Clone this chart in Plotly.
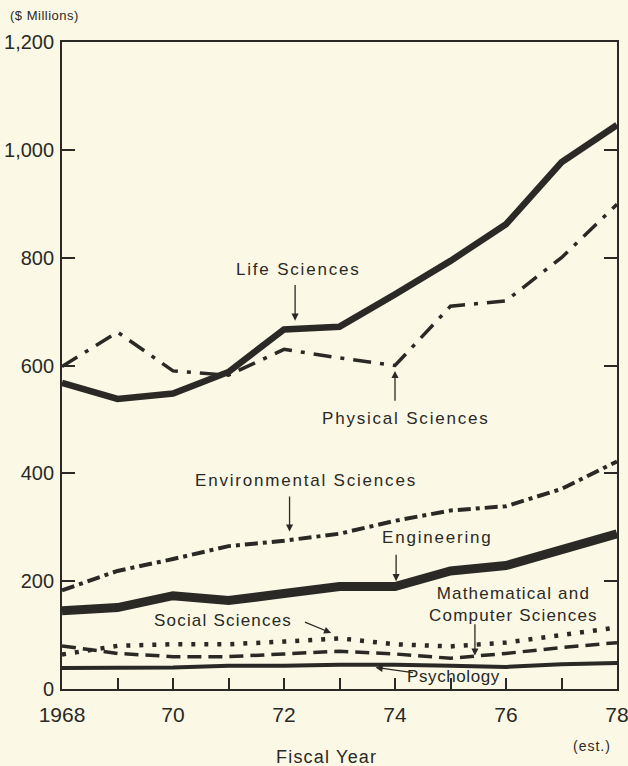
import plotly.graph_objects as go

years = [1968, 1969, 1970, 1971, 1972, 1973, 1974, 1975, 1976, 1977, 1978]
life_sciences = [568, 538, 548, 588, 667, 672, 732, 794, 862, 977, 1046]
physical_sciences = [598, 662, 590, 582, 630, 614, 600, 710, 720, 800, 899]
environmental_sciences = [183, 219, 241, 265, 275, 288, 312, 331, 339, 371, 422]
engineering = [145, 151, 173, 164, 177, 190, 190, 219, 229, 257, 288]
social_sciences = [64, 80, 83, 83, 88, 94, 83, 79, 86, 99, 114]
math_computer = [80, 66, 60, 60, 65, 70, 65, 57, 66, 77, 86]
psychology = [39, 39, 40, 43, 43, 45, 45, 43, 41, 46, 48]

x_tick_vals = years
x_tick_text = ["1968", "", "70", "", "72", "", "74", "", "76", "", "78"]
y_tick_vals = [0, 200, 400, 600, 800, 1000, 1200]
y_tick_text = ["0", "200", "400", "600", "800", "1,000", "1,200"]

INK = "#2a2925"
BG = "#fbf9e6"
FONT = "Liberation Sans"

fig = go.Figure()

def add(vals, width, dash):
    fig.add_trace(go.Scatter(x=years, y=vals, mode="lines",
                             line=dict(color=INK, width=width, dash=dash),
                             showlegend=False, hoverinfo="skip"))

add(psychology, 4, "solid")
add(math_computer, 3.5, "14px,7px")
add(social_sciences, 4.5, "4px,9px")
add(engineering, 9, "solid")
add(environmental_sciences, 4, "13px,5px,4px,5px")
add(physical_sciences, 3.5, "18px,9px,4px,9px")
add(life_sciences, 6.5, "solid")

def sp(text, s=1.8):
    return '<span style="letter-spacing:%spx">' % s + text + '</span>'

def label(text, x, y, size=17):
    fig.add_annotation(x=x, y=y, xref="x", yref="y", text=text, showarrow=False,
                       font=dict(family=FONT, size=size, color=INK))

def arrow(x0, y0, x1, y1):
    fig.add_annotation(x=x1, y=y1, ax=x0, ay=y0, xref="x", yref="y",
                       axref="x", ayref="y", text="", showarrow=True,
                       arrowhead=2, arrowsize=1.1, arrowwidth=1.3,
                       arrowcolor=INK, standoff=0, startstandoff=0)

label(sp("Life Sciences"), 1972.27, 778)
arrow(1972.2, 752, 1972.2, 683)
label(sp("Physical Sciences"), 1974.2, 502)
arrow(1974.0, 532, 1974.0, 590)
label(sp("Environmental Sciences"), 1972.4, 387)
arrow(1972.1, 360, 1972.1, 292)
label(sp("Engineering"), 1974.76, 281)
arrow(1974.02, 252, 1974.02, 200)
label(sp("Mathematical and", 1.2) + "<br>" + sp("Computer Sciences", 1.2), 1976.14, 157)
arrow(1975.44, 123, 1975.44, 62)
label(sp("Social Sciences", 1.2), 1970.9, 127)
arrow(1972.35, 125, 1972.85, 104)
label(sp("Psychology", 0.6), 1975.06, 24)
arrow(1974.35, 30, 1973.65, 40)

def px_x(px):
    return (px - 62) / 555

def px_y(py):
    return (689 - py) / 647

fig.add_annotation(x=px_x(8), y=px_y(16), xref="paper", yref="paper",
                   xanchor="left", yanchor="middle", text=sp("(&#36; Millions)", 0.5),
                   showarrow=False, font=dict(family=FONT, size=13, color=INK))
fig.add_annotation(x=px_x(592), y=px_y(746), xref="paper", yref="paper",
                   xanchor="center", yanchor="middle", text=sp("(est.)", 1),
                   showarrow=False, font=dict(family=FONT, size=14, color=INK))
fig.add_annotation(x=px_x(326), y=px_y(757), xref="paper", yref="paper",
                   xanchor="center", yanchor="middle", text=sp("Fiscal Year", 1.2),
                   showarrow=False, font=dict(family=FONT, size=18, color=INK))

fig.update_layout(
    width=628, height=766,
    margin=dict(l=62, r=11, t=42, b=77),
    paper_bgcolor=BG, plot_bgcolor=BG,
    font=dict(family=FONT, color=INK),
    xaxis=dict(range=[1968, 1978], tickvals=x_tick_vals, ticktext=x_tick_text,
               ticks="inside", ticklen=11, tickwidth=1.5, tickcolor=INK,
               showline=True, linecolor=INK, linewidth=1.8, mirror=True,
               showgrid=False, zeroline=False, ticklabelstandoff=6, automargin=False,
               ticklabeloverflow="allow",
               tickfont=dict(family=FONT, size=21, color=INK)),
    yaxis=dict(range=[0, 1200], tickvals=y_tick_vals, ticktext=y_tick_text,
               ticks="inside", ticklen=13, tickwidth=1.5, tickcolor=INK,
               showline=True, linecolor=INK, linewidth=1.8, mirror="ticks",
               showgrid=False, zeroline=False, automargin=False, ticklabelstandoff=2,
               ticklabeloverflow="allow",
               tickfont=dict(family=FONT, size=20, color=INK)),
)

fig.write_html("out.html", config={"displayModeBar": False},
               post_script="document.body.style.margin='0px';document.body.style.background='" + BG + "';")
